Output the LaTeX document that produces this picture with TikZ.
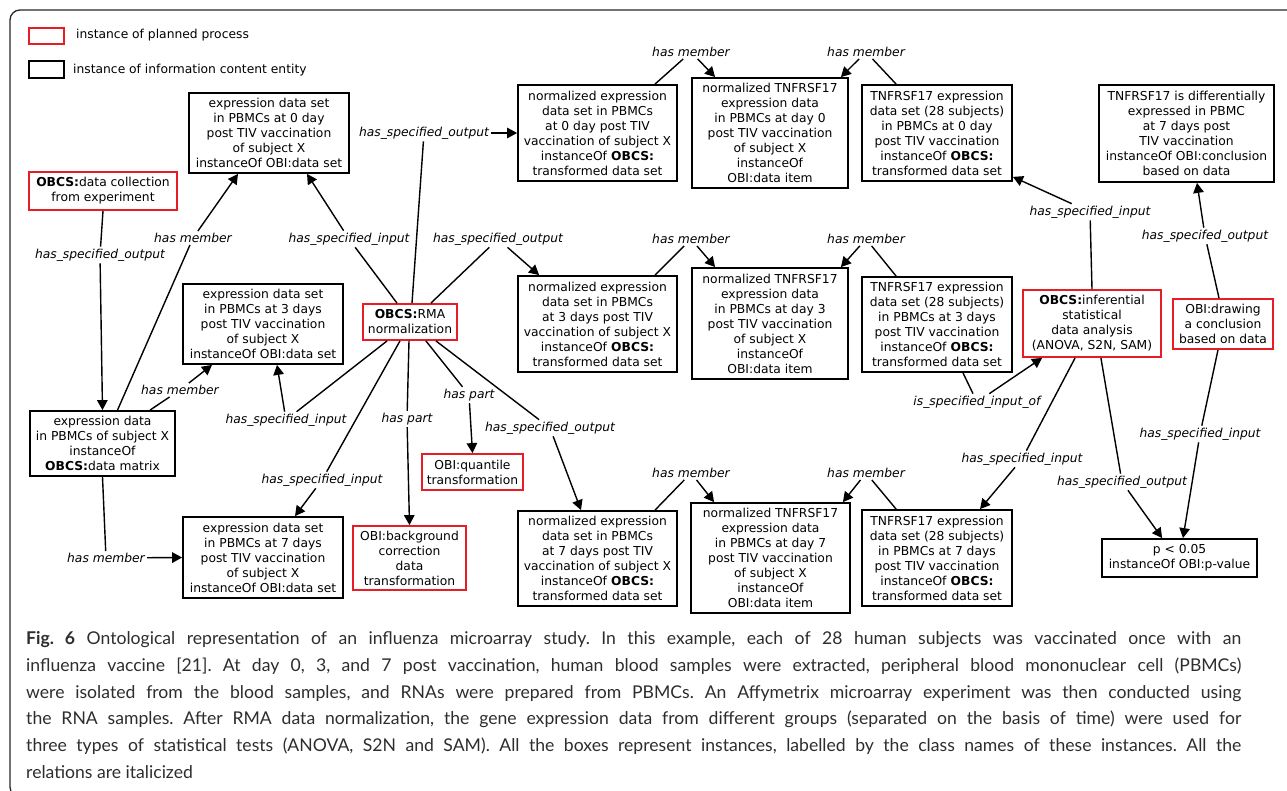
\documentclass[tikz,border=0pt]{standalone}
\usepackage{fontspec}
\setmainfont{DejaVu Sans}
\newfontfamily\capfont{Lato}
\usetikzlibrary{arrows.meta}
\definecolor{redbox}{RGB}{232,28,36}
\definecolor{captxt}{RGB}{45,45,45}
\frenchspacing
\begin{document}
\begin{tikzpicture}[x=1pt,y=-1pt,
  every node/.style={font=\fontsize{12.3}{15}\selectfont},
  icebox/.style={draw=black,line width=1.8pt,align=center,inner sep=0pt},
  ppbox/.style={draw=redbox,line width=1.8pt,align=center,inner sep=0pt},
  rel/.style={font=\fontsize{12.3}{15}\selectfont\itshape,inner sep=2pt},
  conn/.style={line width=1.4pt},
  arr/.style={conn,-{Triangle[length=10pt,width=10.5pt]}},
  captext/.style={font=\capfont\fontsize{17.6}{20}\selectfont,text=captxt,inner sep=0pt,anchor=base west}
]
\useasboundingbox (0,0) rectangle (1287,791);
% frame
\draw[line width=1.3pt,black!85,rounded corners=10pt] (1300,10) -- (10,10) -- (10,797) -- (40,797);

% legend
\node[ppbox,minimum width=35pt,minimum height=16pt] (legp) at (46.5,36) {};
\node[anchor=west,inner sep=0pt] (legpt) at (76,35) {instance of planned process};
\node[icebox,minimum width=35pt,minimum height=17pt] (legi) at (46.5,69.5) {};
\node[anchor=west,inner sep=0pt] (legit) at (73,70) {instance of information content entity};

% boxes
\node[icebox,minimum width=160pt,minimum height=80pt] (b0) at (269,133) {expression data set\\in PBMCs at 0 day\\post TIV vaccination\\of subject X\\instanceOf OBI:data set};
\node[ppbox,minimum width=148pt,minimum height=38pt] (dc) at (103,191) {\textbf{OBCS:}data collection\\from experiment};
\node[icebox,minimum width=145pt,minimum height=65pt] (mat) at (102.5,443.5) {expression data\\in PBMCs of subject X\\instanceOf\\\textbf{OBCS:}data matrix};
\node[icebox,minimum width=160pt,minimum height=80pt] (b3) at (263,324) {expression data set\\in PBMCs at 3 days\\post TIV vaccination\\of subject X\\instanceOf OBI:data set};
\node[icebox,minimum width=160pt,minimum height=81pt] (b7) at (263,557.5) {expression data set\\in PBMCs at 7 days\\post TIV vaccination\\of subject X\\instanceOf OBI:data set};
\node[ppbox,minimum width=94pt,minimum height=36pt] (rma) at (410,322) {\textbf{OBCS:}RMA\\normalization};
\node[ppbox,minimum width=101pt,minimum height=36pt] (quant) at (472.5,472) {OBI:quantile\\transformation};
\node[ppbox,minimum width=113pt,minimum height=64pt] (bg) at (409.5,558) {OBI:background\\correction\\data\\transformation};

\node[icebox,minimum width=159pt,minimum height=96pt] (n0) at (597.5,133) {normalized expression\\data set in PBMCs\\at 0 day post TIV\\vaccination of subject X\\instanceOf \textbf{OBCS:}\\transformed data set};
\node[icebox,minimum width=159pt,minimum height=96pt] (n3) at (597.5,324) {normalized expression\\data set in PBMCs\\at 3 days post TIV\\vaccination of subject X\\instanceOf \textbf{OBCS:}\\transformed data set};
\node[icebox,minimum width=159pt,minimum height=95pt] (n7) at (597.5,558.5) {normalized expression\\data set in PBMCs\\at 7 days post TIV\\vaccination of subject X\\instanceOf \textbf{OBCS:}\\transformed data set};

\node[icebox,minimum width=156pt,minimum height=110pt] (t0) at (770,133) {normalized TNFRSF17\\expression data\\in PBMCs at day 0\\post TIV vaccination\\of subject X\\instanceOf\\OBI:data item};
\node[icebox,minimum width=156pt,minimum height=111pt] (t3) at (770,323.5) {normalized TNFRSF17\\expression data\\in PBMCs at day 3\\post TIV vaccination\\of subject X\\instanceOf\\OBI:data item};
\node[icebox,minimum width=159pt,minimum height=110pt] (t7) at (770.5,558) {normalized TNFRSF17\\expression data\\in PBMCs at day 7\\post TIV vaccination\\of subject X\\instanceOf\\OBI:data item};

\node[icebox,minimum width=150pt,minimum height=96pt] (s0) at (937,133) {TNFRSF17 expression\\data set (28 subjects)\\in PBMCs at 0 day\\post TIV vaccination\\instanceOf \textbf{OBCS:}\\transformed data set};
\node[icebox,minimum width=150pt,minimum height=95pt] (s3) at (937,324.5) {TNFRSF17 expression\\data set (28 subjects)\\in PBMCs at 3 days\\post TIV vaccination\\instanceOf \textbf{OBCS:}\\transformed data set};
\node[icebox,minimum width=150pt,minimum height=96pt] (s7) at (937,558) {TNFRSF17 expression\\data set (28 subjects)\\in PBMCs at 7 days\\post TIV vaccination\\instanceOf \textbf{OBCS:}\\transformed data set};

\node[ppbox,minimum width=138pt,minimum height=67pt] (inf) at (1092,323.5) {\textbf{OBCS:}inferential\\statistical\\data analysis\\(ANOVA, S2N, SAM)};
\node[ppbox,minimum width=100pt,minimum height=50pt] (drw) at (1223,324) {OBI:drawing\\a conclusion\\based on data};
\node[icebox,minimum width=175pt,minimum height=97pt] (concl) at (1186.5,133.5) {TNFRSF17 is differentially\\expressed in PBMC\\at 7 days post\\TIV vaccination\\instanceOf OBI:conclusion\\based on data};
\node[icebox,minimum width=155pt,minimum height=38pt] (pval) at (1179.5,558) {p < 0.05\\instanceOf OBI:p-value};

% relation labels
\node[rel] (ldc) at (100,255) {has\_specified\_output};
\node[rel] (lm0) at (193,238) {has member};
\node[rel] (lm3) at (180,390) {has member};
\node[rel] (lm7) at (106,558) {has member};
\node[rel] (lin0) at (349,239) {has\_specified\_input};
\node[rel] (lout0) at (424,133) {has\_specified\_output};
\node[rel] (lout3) at (498,239) {has\_specified\_output};
\node[rel] (lin3) at (286,420) {has\_specified\_input};
\node[rel] (lin7) at (322,480) {has\_specified\_input};
\node[rel] (lpbg) at (407,419) {has part};
\node[rel] (lpq) at (469,395) {has part};
\node[rel] (lout7) at (550,428) {has\_specified\_output};
\node[rel] (ha0) at (691,52) {has member};
\node[rel] (hb0) at (866,52) {has member};
\node[rel] (ha3) at (691,239) {has member};
\node[rel] (hb3) at (866,239) {has member};
\node[rel] (ha7) at (691,473) {has member};
\node[rel] (hb7) at (866,473) {has member};
\node[rel] (lsin0) at (1090,212) {has\_specified\_input};
\node[rel] (lisin) at (977,402) {is\_specified\_input\_of};
\node[rel] (lsin7) at (1022,459) {has\_specified\_input};
\node[rel] (lpout) at (1122,482) {has\_specified\_output};
\node[rel] (lconcl) at (1205,236) {has\_specifed\_output};
\node[rel] (ldin) at (1200,434) {has\_specified\_input};

% connectors
\draw[conn] (dc.south) -- (ldc);
\draw[arr] (ldc) -- (mat.north);
\draw[conn] ([xshift=15pt]mat.north) -- (lm0);
\draw[arr] (lm0) -- ([xshift=-31pt]b0.south);
\draw[conn] ([xshift=47.5pt]mat.north) -- (lm3);
\draw[arr] (lm3) -- ([xshift=-51pt]b3.south);
\draw[conn] (mat.south) -- (lm7);
\draw[arr] (lm7) -- (b7.west);

\draw[conn] ([xshift=-13pt]rma.north) -- (lin0);
\draw[arr] (lin0) -- ([xshift=38pt]b0.south);
\draw[conn] ([xshift=2pt]rma.north) -- (lout0);
\draw[arr] (lout0) -- (n0.west);
\draw[conn] ([xshift=-27pt]rma.north east) -- (lout3);
\draw[arr] (lout3) -- ([xshift=22pt]n3.north west);
\draw[conn] ([xshift=25pt]rma.south west) -- (lin3);
\draw[arr] (lin3) -- ([xshift=14pt]b3.south);
\draw[conn] ([xshift=-10pt]rma.south) -- (lin7);
\draw[arr] (lin7) -- ([xshift=32pt]b7.north);
\draw[conn] ([xshift=-1pt]rma.south) -- (lpbg);
\draw[arr] (lpbg) -- (bg.north);
\draw[conn] ([xshift=-32pt]rma.south east) -- (lpq);
\draw[arr] (lpq) -- (quant.north);
\draw[conn] ([xshift=-22pt]rma.south east) -- (lout7);
\draw[arr] (lout7) -- ([xshift=-16.5pt]n7.north);

\foreach \k in {0,3,7}{
  \draw[conn] ([xshift=57.5pt]n\k.north) -- (ha\k);
  \draw[arr] (ha\k) -- ([xshift=24pt]t\k.north west);
  \draw[conn] ([xshift=35pt]s\k.north west) -- (hb\k);
  \draw[arr] (hb\k) -- ([xshift=-8pt]t\k.north east);
}

\draw[conn] (inf.north) -- (lsin0);
\draw[arr] (lsin0) -- ([yshift=5pt]s0.south east);
\draw[conn] ([xshift=26pt]s3.south) -- (lisin);
\draw[arr] (lisin) -- ([xshift=20pt]inf.south west);
\draw[conn] ([xshift=53pt]inf.south west) -- (lsin7);
\draw[arr] (lsin7) -- ([xshift=43pt]s7.north);
\draw[conn] ([xshift=-61pt]inf.south east) -- (lpout);
\draw[arr] (lpout) -- ([xshift=61pt]pval.north west);
\draw[conn] ([xshift=-4pt]drw.north) -- (lconcl);
\draw[arr] (lconcl) -- ([xshift=10.5pt]concl.south);
\draw[conn] ([xshift=-5pt]drw.south) -- (ldin);
\draw[arr] (ldin) -- ([xshift=3.5pt]pval.north);

% caption
\node[captext] (cap1) at (26,644) {\makebox[1215pt][s]{\textbf{Fig. 6} Ontological representation of an influenza microarray study. In this example, each of 28 human subjects was vaccinated once with an}};
\node[captext] (cap2) at (26,671) {\makebox[1215pt][s]{influenza vaccine [21]. At day 0, 3, and 7 post vaccination, human blood samples were extracted, peripheral blood mononuclear cell (PBMCs)}};
\node[captext] (cap3) at (26,698) {\makebox[1215pt][s]{were isolated from the blood samples, and RNAs were prepared from PBMCs. An Affymetrix microarray experiment was then conducted using}};
\node[captext] (cap4) at (26,724) {\makebox[1215pt][s]{the RNA samples. After RMA data normalization, the gene expression data from different groups (separated on the basis of time) were used for}};
\node[captext] (cap5) at (26,751) {\makebox[1215pt][s]{three types of statistical tests (ANOVA, S2N and SAM). All the boxes represent instances, labelled by the class names of these instances. All the}};
\node[captext] (cap6) at (26,778) {relations are italicized};
\end{tikzpicture}
\end{document}
